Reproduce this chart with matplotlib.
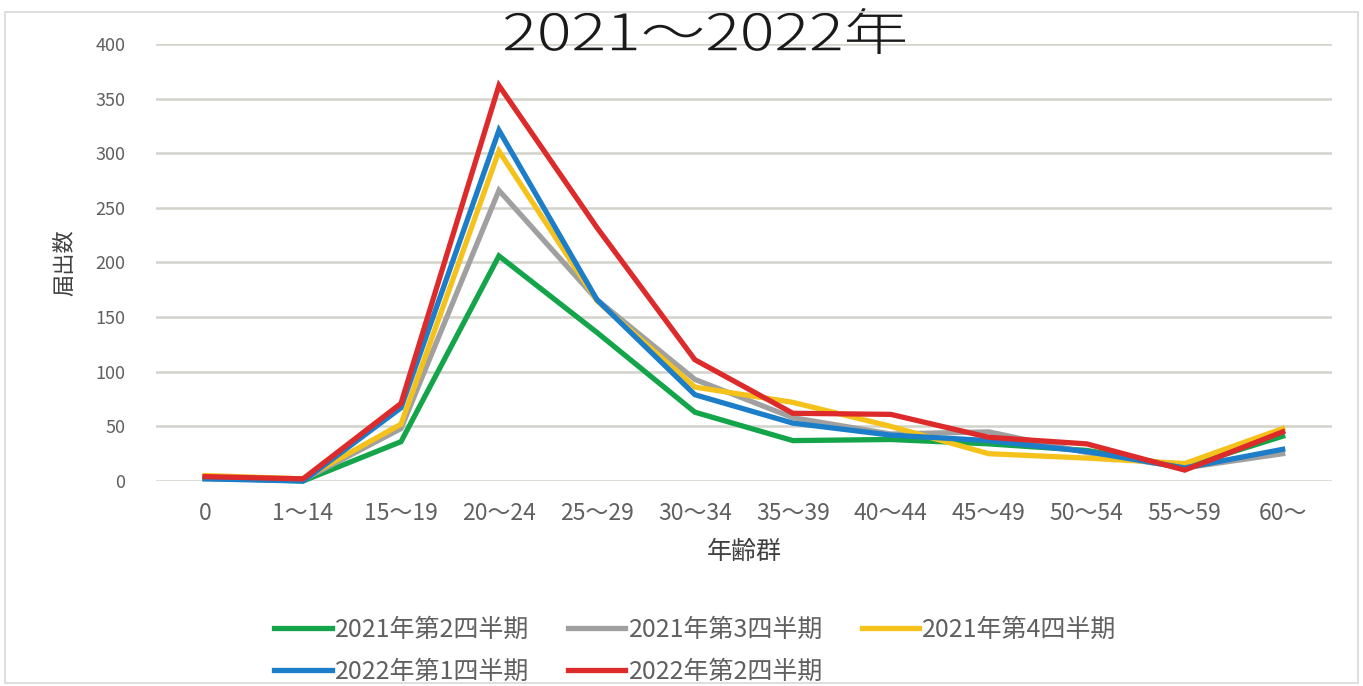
import matplotlib.pyplot as plt
from matplotlib.patches import Rectangle, PathPatch
from matplotlib.textpath import TextPath
from matplotlib.font_manager import FontProperties
from matplotlib.transforms import Affine2D, IdentityTransform

plt.rcParams.update({
    "font.family": ["Noto Sans CJK JP", "DejaVu Sans"],
})

AGE_GROUPS = ["0", "1～14", "15～19", "20～24", "25～29", "30～34",
              "35～39", "40～44", "45～49", "50～54", "55～59", "60～"]

q2_2021 = [3, 0, 36, 206, 136, 63, 37, 38, 34, 28, 13, 41]
q3_2021 = [2, 1, 48, 266, 166, 93, 58, 43, 45, 26, 12, 25]
q4_2021 = [5, 2, 52, 302, 165, 86, 72, 50, 25, 21, 16, 48]
q1_2022 = [2, 0, 67, 321, 166, 79, 53, 42, 37, 27, 12, 29]
q2_2022 = [4, 2, 71, 362, 232, 111, 62, 61, 40, 34, 10, 45]

SERIES = [
    ("2021年第2四半期", q2_2021, "#14A54B"),
    ("2021年第3四半期", q3_2021, "#A0A0A0"),
    ("2021年第4四半期", q4_2021, "#F5C21B"),
    ("2022年第1四半期", q1_2022, "#1C7DC8"),
    ("2022年第2四半期", q2_2022, "#DD2B2B"),
]

TITLE = "2021～2022年"
TEXT_COLOR = "#606060"

W, H = 1363, 686
fig = plt.figure(figsize=(W / 100, H / 100), dpi=100, facecolor="white")
ax = fig.add_axes([0.1145, 0.2988, 0.8625, 0.6371])

x = list(range(len(AGE_GROUPS)))
handles = []
for i, (label, vals, color) in enumerate(SERIES):
    h, = ax.plot(x, vals, color=color, linewidth=3.8, label=label,
                 solid_joinstyle="miter", zorder=3 + i, clip_on=False)
    handles.append(h)

ax.set_xlim(-0.5, len(AGE_GROUPS) - 0.5)
ax.set_ylim(0, 400)
ax.set_yticks(range(0, 401, 50))
ax.set_xticks(x)
ax.set_xticklabels(AGE_GROUPS)
ax.tick_params(axis="both", length=0, colors=TEXT_COLOR)
ax.tick_params(axis="x", labelsize=16.5, pad=15)
ax.tick_params(axis="y", labelsize=13, pad=22)

ax.yaxis.grid(True, color="#D3D3CB", linewidth=1.8, zorder=0)
ax.set_axisbelow(True)
for s in ax.spines.values():
    s.set_visible(False)

ax.set_ylabel("届出数", fontsize=16, color="#404040", labelpad=14)
ax.set_xlabel("年齢群", fontsize=18, color="#404040", labelpad=10)

# wide, thin title drawn as a path and fitted into its box (pixels)
tp = TextPath((0, 0), TITLE, size=1,
              prop=FontProperties(family="Noto Sans CJK JP", weight="light"))
ext = tp.get_extents()
box_l, box_r, box_top, box_bot = 505, 905, 8, 54
title_tf = (Affine2D()
            .translate(-ext.x0, -ext.y0)
            .scale((box_r - box_l) / ext.width, (box_bot - box_top) / ext.height)
            .translate(box_l, H - box_bot))
fig.patches.append(PathPatch(tp, transform=title_tf + IdentityTransform(),
                             facecolor="#1a1a1a", edgecolor="none",
                             figure=fig))

# legend laid out row by row: reorder for column-major filling
order = [0, 3, 1, 4, 2]
ax.legend([handles[k] for k in order], [SERIES[k][0] for k in order],
          ncol=3, loc="upper left", bbox_to_anchor=(0.09, -0.283),
          frameon=False, fontsize=18, labelcolor=TEXT_COLOR,
          handlelength=2.3, handletextpad=0.12, columnspacing=1.55,
          labelspacing=0.62, borderpad=0)

# faint chart border
fig.patches.append(Rectangle((0.004, 0.005), 0.992, 0.978,
                             transform=fig.transFigure, fill=False,
                             edgecolor="#D8D8D8", linewidth=1.2))

fig.savefig("out.png", dpi=100, facecolor="white")
